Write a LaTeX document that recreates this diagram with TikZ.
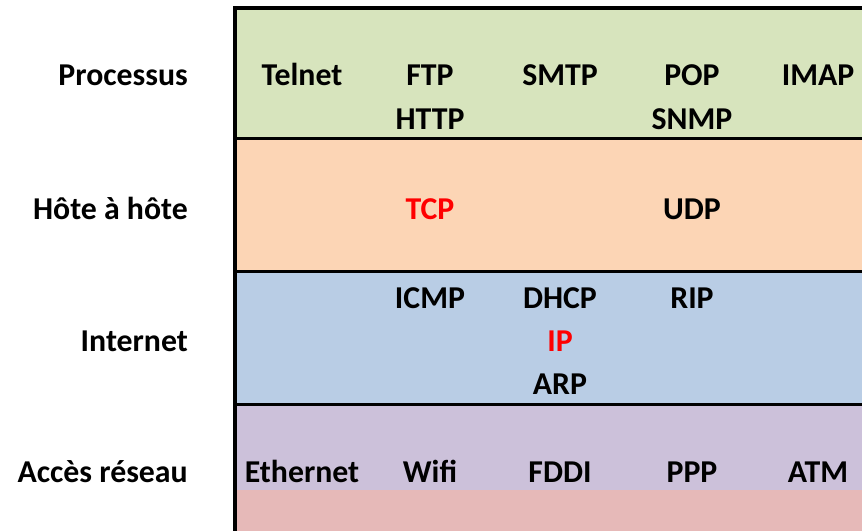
\documentclass[tikz,border=0pt]{standalone}
\usepackage{fontspec}
\setmainfont{Carlito}
\definecolor{cgreen}{HTML}{D7E4BD}
\definecolor{corange}{HTML}{FCD5B5}
\definecolor{cblue}{HTML}{B9CDE5}
\definecolor{cpurple}{HTML}{CCC1DA}
\definecolor{cpink}{HTML}{E6B9B8}
\definecolor{cred}{HTML}{FF0000}
\begin{document}
\begin{tikzpicture}[x=1pt,y=1pt,
  proto/.style={font=\fontsize{31.8}{34}\selectfont\bfseries, anchor=base, inner sep=0pt},
  layername/.style={font=\fontsize{31.8}{34}\selectfont\bfseries, anchor=base east, inner sep=0pt},
  hot/.style={proto, text=cred},
  rule/.style={line width=3pt, black},
  frame/.style={line width=4pt, black}]
\useasboundingbox (0,0) rectangle (862,531);
% layer bands
\fill[cgreen]  (235,523) rectangle (862,392);
\fill[corange] (235,392) rectangle (862,260);
\fill[cblue]   (235,260) rectangle (862,127);
\fill[cpurple] (235,127) rectangle (862,41);
\fill[cpink]   (235,41)  rectangle (862,0);
% separators
\coordinate (s1l) at (235,392); \coordinate (s1r) at (862,392);
\coordinate (s2l) at (235,260); \coordinate (s2r) at (862,260);
\coordinate (s3l) at (235,127); \coordinate (s3r) at (862,127);
\draw[rule] (s1l) -- (s1r);
\draw[rule] (s2l) -- (s2r);
\draw[rule] (s3l) -- (s3r);
\coordinate (tl) at (235,523); \coordinate (tr) at (862,523); \coordinate (bl) at (235,0);
\draw[frame] (tr) -- (tl) -- (bl);
% layer names
\node[layername] (n1) at (188,445) {Processus};
\node[layername] (n2) at (188,311) {Hôte à hôte};
\node[layername] (n3) at (188,180) {Internet};
\node[layername] (n4) at (188,49) {Accès réseau};
% application
\node[proto] (telnet) at (302,445) {Telnet};
\node[proto] (ftp) at (430,445) {FTP};
\node[proto] (smtp) at (560,445) {SMTP};
\node[proto] (pop) at (692,445) {POP};
\node[proto] (imap) at (818,445) {IMAP};
\node[proto] (http) at (430,401) {HTTP};
\node[proto] (snmp) at (692,401) {SNMP};
% transport
\node[hot] (tcp) at (430,311) {TCP};
\node[proto] (udp) at (692,311) {UDP};
% internet
\node[proto] (icmp) at (430,223) {ICMP};
\node[proto] (dhcp) at (560,223) {DHCP};
\node[proto] (rip) at (692,223) {RIP};
\node[hot] (ip) at (560,180) {IP};
\node[proto] (arp) at (560,137) {ARP};
% network access
\node[proto] (eth) at (302,49) {Ethernet};
\node[proto] (wifi) at (430,49) {Wifi};
\node[proto] (fddi) at (560,49) {FDDI};
\node[proto] (ppp) at (692,49) {PPP};
\node[proto] (atm) at (818,49) {ATM};
\end{tikzpicture}
\end{document}
